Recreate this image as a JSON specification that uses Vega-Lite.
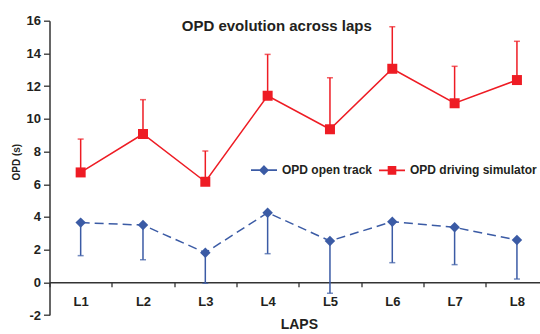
{
  "$schema": "https://vega.github.io/schema/vega-lite/v6.json",
  "autosize": {"type": "none"},
  "width": 490.5,
  "height": 294.3,
  "padding": {"left": 49.5, "top": 20.7, "right": 0, "bottom": 19},
  "background": "white",
  "config": {
    "font": "Liberation Sans",
    "view": {"stroke": null},
    "axis": {"labelFont": "Liberation Sans", "titleFont": "Liberation Sans"}
  },
  "title": {
    "text": "OPD evolution across laps",
    "font": "Liberation Sans",
    "fontSize": 15,
    "fontWeight": "bold",
    "color": "#231F20",
    "anchor": "middle",
    "dx": -18,
    "offset": -19
  },
  "data": {
    "values": [
      {"lap": "L1", "series": "OPD open track", "value": 3.65, "bound": 1.63},
      {"lap": "L2", "series": "OPD open track", "value": 3.5, "bound": 1.38},
      {"lap": "L3", "series": "OPD open track", "value": 1.81, "bound": -0.06},
      {"lap": "L4", "series": "OPD open track", "value": 4.26, "bound": 1.75},
      {"lap": "L5", "series": "OPD open track", "value": 2.53, "bound": -0.67},
      {"lap": "L6", "series": "OPD open track", "value": 3.71, "bound": 1.2},
      {"lap": "L7", "series": "OPD open track", "value": 3.36, "bound": 1.08},
      {"lap": "L8", "series": "OPD open track", "value": 2.59, "bound": 0.2},
      {"lap": "L1", "series": "OPD driving simulator", "value": 6.72, "bound": 8.76},
      {"lap": "L2", "series": "OPD driving simulator", "value": 9.07, "bound": 11.17},
      {"lap": "L3", "series": "OPD driving simulator", "value": 6.15, "bound": 8.03},
      {"lap": "L4", "series": "OPD driving simulator", "value": 11.41, "bound": 13.94},
      {"lap": "L5", "series": "OPD driving simulator", "value": 9.36, "bound": 12.51},
      {"lap": "L6", "series": "OPD driving simulator", "value": 13.06, "bound": 15.63},
      {"lap": "L7", "series": "OPD driving simulator", "value": 10.95, "bound": 13.21},
      {"lap": "L8", "series": "OPD driving simulator", "value": 12.37, "bound": 14.74}
    ]
  },
  "encoding": {
    "x": {
      "field": "lap",
      "type": "ordinal",
      "sort": ["L1", "L2", "L3", "L4", "L5", "L6", "L7", "L8"],
      "scale": {"type": "band", "paddingInner": 0, "paddingOuter": 0, "range": [0, 498.6]},
      "axis": {
        "title": "LAPS",
        "titleFontSize": 14,
        "titleFontWeight": "bold",
        "titleColor": "#231F20",
        "titlePadding": 9,
        "labelAngle": 0,
        "labelFontSize": 13,
        "labelFontWeight": "bold",
        "labelColor": "#231F20",
        "labelPadding": 9,
        "tickBand": "extent",
        "tickSize": 4.5,
        "tickColor": "#333333",
        "tickWidth": 1.3,
        "domainColor": "#333333",
        "domainWidth": 1.5,
        "offset": -32.7,
        "grid": false
      }
    },
    "y": {
      "type": "quantitative",
      "scale": {"domain": [-2, 16], "nice": false, "zero": false},
      "axis": {
        "title": "OPD (s)",
        "titleFontSize": 10,
        "titleFontWeight": "bold",
        "titleColor": "#231F20",
        "titleAngle": -90,
        "titleBaseline": "middle",
        "titleAlign": "center",
        "titleX": -33.5,
        "titleY": 141,
        "values": [-2, 0, 2, 4, 6, 8, 10, 12, 14, 16],
        "labelExpr": "'' + datum.value",
        "labelFontSize": 13,
        "labelFontWeight": "bold",
        "labelColor": "#231F20",
        "labelPadding": 3,
        "tickSize": 6,
        "tickColor": "#333333",
        "tickWidth": 1.3,
        "domainColor": "#333333",
        "domainWidth": 1.5,
        "grid": false
      }
    },
    "color": {
      "field": "series",
      "type": "nominal",
      "scale": {"domain": ["OPD open track", "OPD driving simulator"], "range": ["#3B5BA5", "#EE1C24"]},
      "legend": {
        "title": null,
        "orient": "none",
        "direction": "horizontal",
        "legendX": 200.5,
        "legendY": 135,
        "labelFont": "Liberation Sans",
        "labelFontSize": 12,
        "labelFontWeight": "bold",
        "labelColor": "#231F20",
        "labelOffset": 4,
        "columnPadding": 2,
        "symbolSize": 676,
        "symbolStrokeWidth": 1.6,
        "encode": {
          "symbols": {
            "update": {
              "shape": {"signal": "datum.value === 'OPD open track' ? 'M-1,0H1M0,-0.3L0.3,0L0,0.3L-0.3,0Z' : 'M-1,0H1M-0.27,-0.27H0.27V0.27H-0.27Z'"},
              "size": {"value": 676},
              "strokeWidth": {"value": 1.6},
              "fill": {"signal": "datum.value === 'OPD open track' ? '#3B5BA5' : '#EE1C24'"},
              "stroke": {"signal": "datum.value === 'OPD open track' ? '#3B5BA5' : '#EE1C24'"},
              "strokeDash": {"value": []},
              "opacity": {"value": 1},
              "fillOpacity": {"value": 1},
              "strokeOpacity": {"value": 1}
            }
          }
        }
      }
    }
  },
  "layer": [
    {
      "mark": {"type": "rule", "strokeWidth": 1.5},
      "encoding": {"y": {"field": "value", "type": "quantitative"}, "y2": {"field": "bound"}}
    },
    {
      "mark": {"type": "tick", "size": 6, "thickness": 1.5},
      "encoding": {"y": {"field": "bound", "type": "quantitative"}}
    },
    {
      "transform": [{"filter": "datum.series === 'OPD open track'"}],
      "mark": {"type": "line", "strokeWidth": 1.5, "strokeDash": [9, 5]},
      "encoding": {"y": {"field": "value", "type": "quantitative"}}
    },
    {
      "transform": [{"filter": "datum.series === 'OPD driving simulator'"}],
      "mark": {"type": "line", "strokeWidth": 1.5},
      "encoding": {"y": {"field": "value", "type": "quantitative"}}
    },
    {
      "transform": [{"filter": "datum.series === 'OPD open track'"}],
      "mark": {"type": "point", "filled": true, "opacity": 1, "shape": "diamond", "size": 110},
      "encoding": {"y": {"field": "value", "type": "quantitative"}}
    },
    {
      "transform": [{"filter": "datum.series === 'OPD driving simulator'"}],
      "mark": {"type": "point", "filled": true, "opacity": 1, "shape": "square", "size": 100},
      "encoding": {"y": {"field": "value", "type": "quantitative"}}
    }
  ]
}
